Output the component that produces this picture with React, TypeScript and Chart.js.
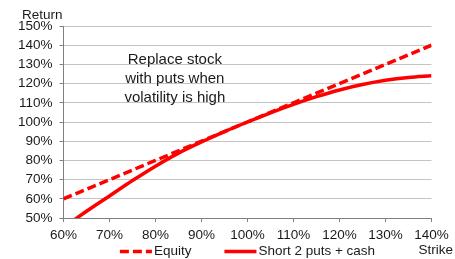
import { useEffect, useRef } from 'react';
import { Chart, registerables } from 'chart.js';
Chart.register(...registerables);

const FONT = '"Liberation Sans", Arial, sans-serif';

const strikes = [60, 65, 70, 75, 80, 85, 90, 95, 100, 105, 110, 115, 120, 125, 130, 135, 140];
const equity = [60, 65, 70, 75, 80, 85, 90, 95, 100, 105, 110, 115, 120, 125, 130, 135, 140];
const shortPuts = [45, 53.5, 61.5, 69.5, 77, 83.8, 89.6, 95, 100, 104.8, 109.2, 113.2, 116.7, 119.5, 121.7, 123.2, 124.1];

const xTicks = [60, 70, 80, 90, 100, 110, 120, 130, 140];
const seriesNames = ['Equity', 'Short 2 puts + cash'];
const annotationLines = ['Replace stock', 'with puts when', 'volatility is high'];
const yTitle = 'Return';
const xTitle = 'Strike';

const RED = '#ff0000';
const TEXT = '#1a1a1a';

const textPlugin = {
  id: 'texts',
  afterDraw(chart: any) {
    const { ctx, chartArea, scales } = chart;
    ctx.save();
    ctx.fillStyle = TEXT;
    ctx.font = `13.5px ${FONT}`;
    ctx.textBaseline = 'middle';
    ctx.textAlign = 'left';
    ctx.fillText(yTitle, 22, 15);
    ctx.textAlign = 'right';
    ctx.fillText(xTitle, chart.width - 2, 250);

    // annotation
    ctx.font = `15px ${FONT}`;
    ctx.textAlign = 'center';
    const ax = scales.x.getPixelForValue(84.2);
    annotationLines.forEach((t, i) => {
      ctx.fillText(t, ax, scales.y.getPixelForValue(132.3 - i * 9.9));
    });

    // legend
    ctx.font = `13.5px ${FONT}`;
    const sample = 32;
    const gap = 2;
    const between = 33;
    const w0 = ctx.measureText(seriesNames[0]).width;
    const w1 = ctx.measureText(seriesNames[1]).width;
    const total = sample + gap + w0 + between + sample + gap + w1;
    let x = (chartArea.left + chartArea.right) / 2 - total / 2;
    const ly = 251.5;
    ctx.strokeStyle = RED;
    ctx.lineWidth = 3.5;
    ctx.setLineDash([9, 4]);
    ctx.beginPath();
    ctx.moveTo(x, ly);
    ctx.lineTo(x + sample, ly);
    ctx.stroke();
    ctx.setLineDash([]);
    x += sample + gap;
    ctx.textAlign = 'left';
    ctx.fillText(seriesNames[0], x, ly);
    x += w0 + between;
    ctx.beginPath();
    ctx.moveTo(x, ly);
    ctx.lineTo(x + sample, ly);
    ctx.stroke();
    x += sample + gap;
    ctx.fillText(seriesNames[1], x, ly);
    ctx.restore();
  },
};

export default function App() {
  const ref = useRef<HTMLCanvasElement>(null);
  useEffect(() => {
    document.body.style.margin = '0';
    const chart = new Chart(ref.current!, {
      type: 'line',
      data: {
        datasets: [
          {
            label: seriesNames[0],
            data: strikes.map((s, i) => ({ x: s, y: equity[i] })),
            borderColor: RED,
            borderWidth: 3.5,
            borderDash: [9, 4],
            pointRadius: 0,
            tension: 0,
          },
          {
            label: seriesNames[1],
            data: strikes.map((s, i) => ({ x: s, y: shortPuts[i] })),
            borderColor: RED,
            borderWidth: 3.5,
            pointRadius: 0,
            cubicInterpolationMode: 'monotone',
          },
        ],
      },
      options: {
        animation: false,
        responsive: false,
        maintainAspectRatio: false,
        layout: { padding: { left: 0, right: 23.5, top: 26, bottom: 0 } },
        plugins: { legend: { display: false }, tooltip: { enabled: false } },
        scales: {
          x: {
            type: 'linear',
            min: 60,
            max: 140,
            afterBuildTicks: (s: any) => {
              s.ticks = xTicks.map((v) => ({ value: v }));
            },
            afterFit: (s: any) => {
              s.height = 41;
            },
            ticks: {
              autoSkip: false,
              maxRotation: 0,
              padding: 5,
              color: TEXT,
              font: { family: FONT, size: 13.5 },
              callback: (v: any) => `${v}%`,
            },
            grid: {
              drawOnChartArea: false,
              drawTicks: true,
              tickLength: 4,
              color: '#808080',
            },
            border: { display: true, color: '#808080', width: 1 },
          },
          y: {
            min: 50,
            max: 150,
            afterFit: (s: any) => {
              s.width = 63.5;
            },
            ticks: {
              stepSize: 10,
              padding: 7,
              color: TEXT,
              font: { family: FONT, size: 13.5 },
              callback: (v: any) => `${v}%`,
            },
            grid: {
              color: '#c4c4c4',
              tickColor: '#808080',
              tickLength: 4,
              lineWidth: 1,
            },
            border: { display: true, color: '#808080', width: 1 },
          },
        },
      },
      plugins: [textPlugin],
    } as any);
    return () => chart.destroy();
  }, []);
  return (
    <div style={{ width: 455, height: 259 }}>
      <canvas ref={ref} width={455} height={259} style={{ display: 'block' }} />
    </div>
  );
}
